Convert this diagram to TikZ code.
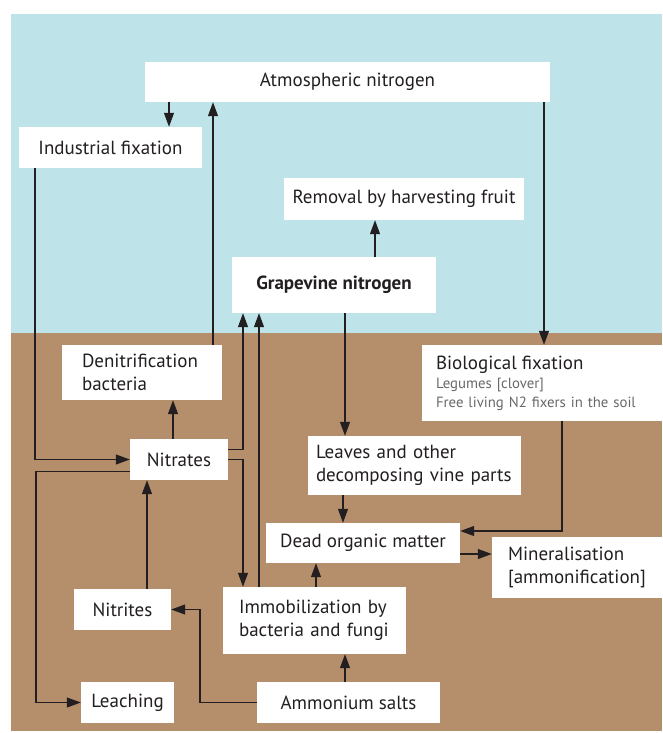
\documentclass[tikz,border=0pt]{standalone}
\usepackage{fontspec}
\setmainfont{PT Sans}
\usepackage{tikz}
\usetikzlibrary{arrows.meta}

\definecolor{sky}{RGB}{190,227,232}
\definecolor{soil}{RGB}{181,143,107}
\definecolor{ink}{RGB}{35,31,32}
\definecolor{greyink}{RGB}{105,105,105}

\tikzset{
  box/.style={fill=white, inner sep=0pt, text=ink, font=\fontsize{19}{22.5}\selectfont},
  arr/.style={-{Triangle[length=14pt,width=10pt]}, line width=1.1pt, draw=ink},
  ln/.style={line width=1.1pt, draw=ink}
}

\begin{document}
\begin{tikzpicture}[x=1pt,y=-1pt]
\useasboundingbox (0,0) rectangle (662,733);
\fill[sky] (11,14) rectangle (662,333);
\fill[soil] (11,333) rectangle (662,731);

\node [box, minimum width=405pt, minimum height=40pt] (atm) at (347.5,82) {Atmospheric nitrogen};
\node [box, minimum width=183pt, minimum height=41pt] (ind) at (110.5,147.5) {Industrial fixation};
\node [box, minimum width=240pt, minimum height=42pt] (rem) at (404,199) {Removal by harvesting fruit};
\node [box, minimum width=204pt, minimum height=56pt, font=\fontsize{19}{22.5}\selectfont\bfseries] (grape) at (334,285) {Grapevine nitrogen};
\node [box, inner xsep=20pt, text width=120pt, minimum height=55pt, align=left] (denit) at (142,372.5) {Denitrification\\bacteria};
\node [box, inner xsep=14pt, text width=212pt, minimum height=76pt, align=left, text=greyink, font=\fontsize{14.8}{19}\selectfont] (bio) at (542,383)
  {{\color{ink}\fontsize{19}{19}\selectfont Biological fixation}\\Legumes [clover]\\Free living N2 fixers in the soil};
\node [box, minimum width=98pt, minimum height=41pt] (nitr) at (179,459.5) {Nitrates};
\node [box, inner xsep=8pt, text width=197pt, minimum height=59pt, align=left] (leaves) at (414.5,465.5) {Leaves and other\\decomposing vine parts};
\node [box, minimum width=194pt, minimum height=40pt] (dead) at (363,543) {Dead organic matter};
\node [box, inner xsep=16pt, text width=138pt, minimum height=61pt, align=left] (miner) at (577,567.5) {Mineralisation\\{[}ammonification{]}};
\node [box, minimum width=97pt, minimum height=41pt] (nitrites) at (122.5,609.5) {Nitrites};
\node [box, inner xsep=16pt, text width=151pt, minimum height=67pt, align=left] (immob) at (314.5,620.5) {Immobilization by\\bacteria and fungi};
\node [box, minimum width=93pt, minimum height=41pt] (leach) at (127.5,702.5) {Leaching};
\node [box, minimum width=183pt, minimum height=41pt] (amm) at (348.5,702.5) {Ammonium salts};

% air
\draw[arr] (169,0 |- atm.south) -- (169,0 |- ind.north);
\draw[arr] (213,0 |- denit.north) -- (213,0 |- atm.south);
\draw[arr] (544,0 |- atm.south) -- (544,0 |- bio.north);
\draw[arr] (375,0 |- grape.north) -- (375,0 |- rem.south);
\draw[arr] (35,0 |- ind.south) |- (nitr.west);
% vine
\draw[arr] ([yshift=10pt]nitr.east) -| (243,0 |- grape.south);
\draw[arr] (nitr.east) -| (243,0 |- immob.north);
\draw[arr] (259,0 |- immob.north) -- (259,0 |- grape.south);
\draw[arr] (345,0 |- grape.south) -- (345,0 |- leaves.north);
\draw[arr] (343,0 |- leaves.south) -- (343,0 |- dead.north);
\draw[arr] (562,0 |- bio.south) |- ([yshift=12pt]dead.east);
\draw[arr] ([yshift=-11pt]dead.east) -- ([yshift=-11pt]dead.east -| miner.west);
% soil
\draw[arr] (173,0 |- nitr.north) -- (173,0 |- denit.south);
\draw[arr] (147,0 |- nitrites.north) -- (147,0 |- nitr.south);
\draw[arr] ([yshift=-12pt]nitr.west) -| (36,690) |- (leach.west);
\draw[arr] (amm.west) -| (200,650) |- (nitrites.east);
\draw[arr] (345,0 |- amm.north) -- (345,0 |- immob.south);
\draw[arr] (316,0 |- immob.north) -- (316,0 |- dead.south);

\end{tikzpicture}
\end{document}
